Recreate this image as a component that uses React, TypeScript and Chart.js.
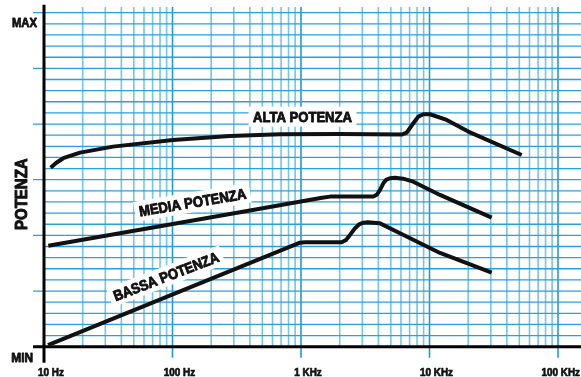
import React, { useEffect, useRef } from "react";
import { Chart, registerables } from "chart.js";

Chart.register(...registerables);

// ---- data (frequency in Hz, relative power 0..30 where 30 = MAX) ----
const altaFreq = [11.27, 12.4, 14.13, 19.06, 34.4, 100.9, 280.3, 686.6, 2012, 6078, 6646, 7480, 8180, 8950, 10090, 13610, 20040, 52190];
const altaVal = [16.08, 16.5, 16.93, 17.43, 17.97, 18.57, 18.93, 19.08, 19.1, 19.05, 19.23, 20.07, 20.67, 20.88, 20.88, 20.37, 19.32, 17.22];

const mediaFreq = [10.8, 335.2, 1457, 1682, 3652, 3904, 4119, 4370, 4586, 4927, 5389, 6220, 7480, 12070, 30480];
const mediaVal = [9.07, 12.08, 13.38, 13.48, 13.48, 13.67, 14.08, 14.68, 14.98, 15.13, 15.18, 15.09, 14.82, 13.63, 11.59];

const bassaFreq = [10.74, 982, 1074, 2073, 2240, 2406, 2632, 2827, 3054, 3322, 3652, 4119, 5893, 12070, 30480];
const bassaVal = [0.15, 9.34, 9.38, 9.38, 9.59, 10.04, 10.64, 10.98, 11.14, 11.18, 11.14, 11.08, 10.19, 8.42, 6.65];

const tickFreqs = [10, 100, 1000, 10000, 100000];
const tickLabels = ["10 Hz", "100 Hz", "1 KHz", "10 KHz", "100 KHz"];
const yMaxLabel = "MAX";
const yMinLabel = "MIN";
const yTitle = "POTENZA";

const curveLabels = ["ALTA POTENZA", "MEDIA POTENZA", "BASSA POTENZA"];
const curveLabelFreq = [1027, 143, 89];
const curveLabelVal = [20.66, 12.97, 6.32];
const curveLabelAngle = [0, -9.5, -21];

const X_MIN = 10;
const X_MAX = 151000;
const Y_MIN = 0;
const Y_MAX = 30;

const FONT = '"Liberation Sans", Arial, sans-serif';

function drawText(
  ctx: CanvasRenderingContext2D,
  s: string,
  x: number,
  y: number,
  size: number,
  sx: number,
  angle: number,
  align: CanvasTextAlign,
  bg: boolean,
  weight: number
) {
  ctx.save();
  ctx.translate(x, y);
  ctx.rotate((angle * Math.PI) / 180);
  ctx.scale(sx, 1);
  ctx.font = `bold ${size}px ${FONT}`;
  ctx.textAlign = align;
  ctx.textBaseline = "alphabetic";
  const w = ctx.measureText(s).width;
  if (bg) {
    ctx.fillStyle = "#ffffff";
    const x0 = align === "center" ? -w / 2 : align === "right" ? -w : 0;
    ctx.fillRect(x0 - 5, -size * 0.68, w + 10, size * 1.36);
  }
  ctx.fillStyle = "#111111";
  ctx.strokeStyle = "#111111";
  ctx.lineWidth = weight;
  ctx.lineJoin = "round";
  ctx.fillText(s, 0, size * 0.358);
  ctx.strokeText(s, 0, size * 0.358);
  ctx.restore();
}

const gridPlugin = {
  id: "paperGrid",
  beforeDatasetsDraw(chart: any) {
    const ctx: CanvasRenderingContext2D = chart.ctx;
    const { left, right, top, bottom } = chart.chartArea;
    const xs = chart.scales.x;
    const ys = chart.scales.y;
    ctx.save();
    // vertical lines
    for (let e = 1; e <= 5; e++) {
      for (let m = 1; m <= 9; m++) {
        const f = m * Math.pow(10, e);
        if (f <= X_MIN || f > X_MAX) continue;
        const x = xs.getPixelForValue(f);
        const major = m === 1;
        ctx.beginPath();
        ctx.strokeStyle = major ? "#1e9bd7" : "#74c5ea";
        ctx.lineWidth = 1.6;
        ctx.moveTo(x, top - 5.7);
        ctx.lineTo(x, major ? bottom + 11 : bottom);
        ctx.stroke();
      }
    }
    // horizontal lines
    for (let v = Y_MIN + 1; v <= Y_MAX; v++) {
      const y = ys.getPixelForValue(v);
      const major = v % 5 === 0;
      ctx.beginPath();
      ctx.strokeStyle = "#2a9fd9";
      ctx.lineWidth = 1.3;
      ctx.moveTo(major ? left - 11 : left, y);
      ctx.lineTo(right, y);
      ctx.stroke();
    }
    // axes
    ctx.strokeStyle = "#000000";
    ctx.lineWidth = 3;
    ctx.beginPath();
    ctx.moveTo(left, top - 8);
    ctx.lineTo(left, bottom + 16);
    ctx.stroke();
    ctx.beginPath();
    ctx.moveTo(left - 11, bottom);
    ctx.lineTo(right, bottom);
    ctx.stroke();

    // curve labels
    for (let i = 0; i < curveLabels.length; i++) {
      const x = xs.getPixelForValue(curveLabelFreq[i]);
      const y = ys.getPixelForValue(curveLabelVal[i]);
      drawText(ctx, curveLabels[i], x, y, 14.7, 0.89, curveLabelAngle[i], "center", true, 0.9);
    }

    // y labels
    drawText(ctx, yMaxLabel, left - 7, ys.getPixelForValue(Y_MAX) + 10.3, 12.5, 0.9, 0, "right", false, 0.8);
    drawText(ctx, yMinLabel, left - 11, bottom + 11.3, 12.5, 0.95, 0, "right", false, 0.8);
    drawText(ctx, yTitle, 20.8, ys.getPixelForValue(13.7), 16.3, 0.92, -90, "center", false, 1);

    // x tick labels
    for (let i = 0; i < tickFreqs.length; i++) {
      const x = xs.getPixelForValue(tickFreqs[i]);
      const last = i === tickFreqs.length - 1;
      drawText(ctx, tickLabels[i], last ? 580 : x + 7, bottom + 25.3, 11, 0.9, 0, last ? "right" : "center", false, 0.7);
    }
    ctx.restore();
  },
};

function toPoints(fs: number[], vs: number[]) {
  return fs.map((f, i) => ({ x: f, y: vs[i] }));
}

export default function App() {
  const ref = useRef<HTMLCanvasElement | null>(null);
  useEffect(() => {
    if (!ref.current) return;
    const lineStyle = {
      borderColor: "#111111",
      borderWidth: 4,
      pointRadius: 0,
      fill: false,
      tension: 0,
      borderJoinStyle: "round" as const,
    };
    const chart = new Chart(ref.current, {
      type: "line",
      data: {
        datasets: [
          { label: curveLabels[0], data: toPoints(altaFreq, altaVal), ...lineStyle },
          { label: curveLabels[1], data: toPoints(mediaFreq, mediaVal), ...lineStyle },
          { label: curveLabels[2], data: toPoints(bassaFreq, bassaVal), ...lineStyle },
        ],
      },
      options: {
        animation: false,
        responsive: false,
        devicePixelRatio: 1,
        layout: { padding: { left: 44, right: 0, top: 12.7, bottom: 30.3 } },
        plugins: { legend: { display: false }, tooltip: { enabled: false } },
        scales: {
          x: { type: "logarithmic", min: X_MIN, max: X_MAX, bounds: "data", display: false },
          y: { type: "linear", min: Y_MIN, max: Y_MAX, display: false },
        },
      },
      plugins: [gridPlugin],
    });
    return () => chart.destroy();
  }, []);
  return (
    <div style={{ position: "absolute", left: 0, top: 0, width: 581, height: 377, background: "#fff" }}>
      <canvas ref={ref} width={581} height={377} />
    </div>
  );
}
